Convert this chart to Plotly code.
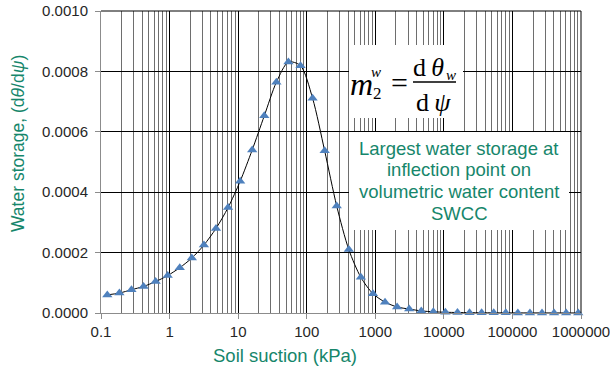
import plotly.graph_objects as go

# ---- data ----
suction_kpa = [0.1236, 0.1854, 0.2781, 0.4172, 0.6257, 0.9386, 1.408, 2.112, 3.168, 4.752,
               7.128, 10.69, 16.04, 24.06, 36.09, 54.13, 81.2, 121.8, 182.7, 274.0,
               411.0, 616.5, 924.8, 1387, 2081, 3121, 4682, 7022, 10534, 15800,
               23700, 35550, 53330, 80000, 120000, 180000, 270000, 405000, 607500, 911200]
water_storage = [6.0e-5, 6.6e-5, 7.7e-5, 8.8e-5, 1.04e-4, 1.24e-4, 1.50e-4, 1.82e-4, 2.25e-4, 2.80e-4,
                 3.49e-4, 4.36e-4, 5.40e-4, 6.53e-4, 7.64e-4, 8.31e-4, 8.19e-4, 7.11e-4, 5.37e-4, 3.54e-4,
                 2.10e-4, 1.18e-4, 6.4e-5, 3.6e-5, 2.0e-5, 1.3e-5, 7e-6, 4e-6, 2.5e-6, 1.6e-6,
                 1.1e-6, 8e-7, 6e-7, 5e-7, 4e-7, 3e-7, 2.5e-7, 2e-7, 1.5e-7, 1.2e-7]
x_major = [0.1, 1, 10, 100, 1000, 10000, 100000, 1000000]
x_major_labels = ["0.1", "1", "10", "100", "1000", "10000", "100000", "1000000"]
x_minor = [m * d for d in [0.1, 1, 10, 100, 1000, 10000, 100000] for m in range(2, 10)]
y_ticks = [0, 0.0002, 0.0004, 0.0006, 0.0008, 0.0010]
y_labels = ["0.0000", "0.0002", "0.0004", "0.0006", "0.0008", "0.0010"]
note_lines = ["Largest water storage at", "inflection point on",
              "volumetric water content", "SWCC"]

GREEN = "#16866B"
W, H = 610, 368
L, R, T, B = 101, 29, 11, 55
PW, PH = W - L - R, H - T - B


def px(xp):
    return (xp - L) / PW


def py(yp):
    return (H - B - yp) / PH


fig = go.Figure()
fig.add_trace(go.Scatter(
    x=suction_kpa, y=water_storage, mode="lines+markers",
    line=dict(color="black", width=1, shape="spline", smoothing=0.8),
    marker=dict(symbol="triangle-up", size=9, color="#4F81BD"),
    showlegend=False, cliponaxis=False,
))

fig.update_layout(
    width=W, height=H,
    margin=dict(l=L, r=R, t=T, b=B, autoexpand=False),
    paper_bgcolor="white", plot_bgcolor="white",
    font=dict(family="Liberation Sans, Arial, sans-serif", size=15, color="#262626"),
    xaxis=dict(
        type="log", range=[-1, 6], automargin=False,
        tickmode="array", tickvals=x_major, ticktext=x_major_labels,
        ticklabeloverflow="allow",
        showgrid=True, gridcolor="black", gridwidth=1,
        ticks="outside", ticklen=5, tickcolor="#8c8c8c",
        showline=True, linecolor="#8c8c8c",
        minor=dict(tickmode="array", tickvals=x_minor, showgrid=True,
                   gridcolor="#6e6e6e", gridwidth=1, ticks=""),
        zeroline=False,
    ),
    yaxis=dict(
        range=[0, 0.001], automargin=False,
        tickmode="array", tickvals=y_ticks, ticktext=y_labels,
        showgrid=True, gridcolor="black", gridwidth=1,
        ticks="outside", ticklen=5, tickcolor="#8c8c8c",
        showline=True, linecolor="#8c8c8c",
        ticklabelstandoff=4,
        zeroline=False,
    ),
)

# top and right plot-frame edges (black, like the edge gridlines)
fig.add_shape(type="line", xref="paper", yref="paper", x0=0, x1=1, y0=1, y1=1,
              line=dict(color="black", width=1), layer="above")
fig.add_shape(type="line", xref="paper", yref="paper", x0=1, x1=1, y0=0, y1=1,
              line=dict(color="black", width=1), layer="above")

# axis titles
fig.add_annotation(xref="paper", yref="paper", x=px(18), y=py(144),
                   text="Water storage, (d<i>θ</i>/d<i>ψ</i>)", textangle=-90,
                   showarrow=False, font=dict(size=17.5, color=GREEN),
                   xanchor="center", yanchor="middle")
fig.add_annotation(xref="paper", yref="paper", x=px(285), y=py(355),
                   text="Soil suction (kPa)",
                   showarrow=False, font=dict(size=18.5, color=GREEN),
                   xanchor="center", yanchor="middle")

# formula box
fig.add_shape(type="rect", xref="paper", yref="paper",
              x0=px(349), x1=px(463), y0=py(118), y1=py(45),
              fillcolor="white", line=dict(width=0), layer="above")
SERIF = "Liberation Serif, Times New Roman, serif"
fig.add_annotation(xref="paper", yref="paper", x=px(361), y=py(84), text="<i>m</i>",
                   showarrow=False, font=dict(family=SERIF, size=32, color="black"),
                   xanchor="center", yanchor="middle")
fig.add_annotation(xref="paper", yref="paper", x=px(377), y=py(94), text="2",
                   showarrow=False, font=dict(family=SERIF, size=17, color="black"),
                   xanchor="center", yanchor="middle")
fig.add_annotation(xref="paper", yref="paper", x=px(376), y=py(72), text="<i>w</i>",
                   showarrow=False, font=dict(family=SERIF, size=15, color="black"),
                   xanchor="center", yanchor="middle")
fig.add_annotation(xref="paper", yref="paper", x=px(399), y=py(82), text="=",
                   showarrow=False, font=dict(family=SERIF, size=30, color="black"),
                   xanchor="center", yanchor="middle")
fig.add_annotation(xref="paper", yref="paper", x=px(428), y=py(68), text="d\u2009<i>θ</i>",
                   showarrow=False, font=dict(family=SERIF, size=26, color="black"),
                   xanchor="center", yanchor="middle")
fig.add_annotation(xref="paper", yref="paper", x=px(451), y=py(75), text="<i>w</i>",
                   showarrow=False, font=dict(family=SERIF, size=15, color="black"),
                   xanchor="center", yanchor="middle")
fig.add_shape(type="line", xref="paper", yref="paper",
              x0=px(413), x1=px(456), y0=py(82), y1=py(82),
              line=dict(color="black", width=1.3), layer="above")
fig.add_annotation(xref="paper", yref="paper", x=px(433), y=py(102), text="d\u2009<i>ψ</i>",
                   showarrow=False, font=dict(family=SERIF, size=26, color="black"),
                   xanchor="center", yanchor="middle")

# description box
fig.add_shape(type="rect", xref="paper", yref="paper",
              x0=px(349), x1=px(569), y0=py(230), y1=py(132),
              fillcolor="white", line=dict(width=0), layer="above")
for i, line in enumerate(note_lines):
    fig.add_annotation(xref="paper", yref="paper", x=px(459), y=py(148 + 21.7 * i),
                       text=line, showarrow=False,
                       font=dict(size=18.5, color=GREEN),
                       xanchor="center", yanchor="middle")

fig.write_html("out.html")
